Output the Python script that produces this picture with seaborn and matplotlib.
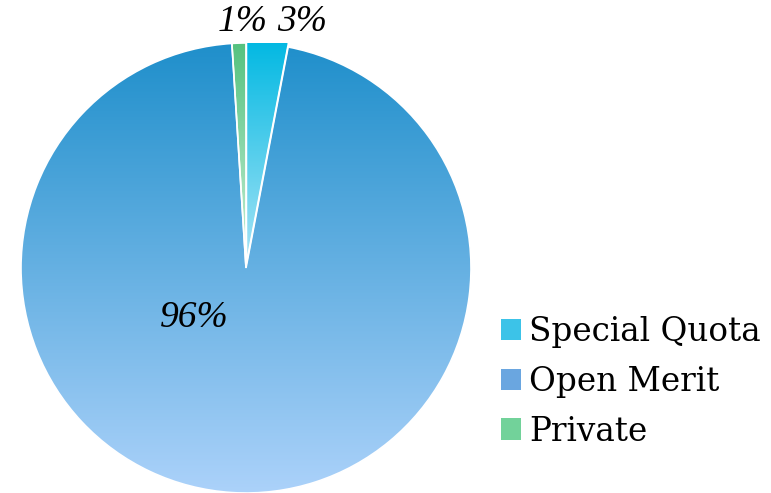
import numpy as np
import matplotlib
matplotlib.use("Agg")
import matplotlib.pyplot as plt
from matplotlib.colors import LinearSegmentedColormap
from matplotlib.patches import Patch
import seaborn as sns

# data
categories = ["Special Quota", "Open Merit", "Private"]
shares = [3, 96, 1]
pct_labels = ["3%", "96%", "1%"]

# gradient colours (top, bottom) for each slice
grad_top = ["#00b8e2", "#1f8fcb", "#55c27f"]
grad_bottom = ["#a8e4f6", "#acd2fa", "#c8f0d8"]
legend_colors = ["#3cc3e8", "#6aa6e0", "#72d29a"]

sns.set_theme(style="white")
plt.rcParams["font.family"] = ["DejaVu Serif", "DejaVu Sans"]

fig = plt.figure(figsize=(7.71, 4.93), dpi=100)
fig.patch.set_facecolor("white")
cx, cy, r = 246, 268, 225
ax = fig.add_axes([(cx - r) / 771, (493 - cy - r) / 493, 2 * r / 771, 2 * r / 493])
ax.set_xlim(-1, 1)
ax.set_ylim(-1, 1)
ax.set_aspect("equal")
ax.axis("off")

wedges, _ = ax.pie(shares, startangle=90, counterclock=False, radius=1,
                   explode=[0.02, 0, 0],
                   wedgeprops=dict(facecolor="none", edgecolor="white", linewidth=1.2))

grad = np.linspace(0, 1, 256).reshape(-1, 1)
for w, c0, c1 in zip(wedges, grad_top, grad_bottom):
    cmap = LinearSegmentedColormap.from_list("g", [c0, c1])
    verts = w.get_path().vertices
    x0, y0 = verts[:, 0].min(), verts[:, 1].min()
    x1, y1 = verts[:, 0].max(), verts[:, 1].max()
    img = ax.imshow(grad, cmap=cmap, extent=[x0, x1, y0, y1], aspect="auto",
                    origin="upper", zorder=1)
    img.set_clip_path(w)
    w.set_zorder(2)
ax.set_xlim(-1, 1)
ax.set_ylim(-1, 1)

# percentage labels
lab_font = dict(family="Liberation Serif", style="italic", fontsize=27, color="black")
label_pos = {"3%": (0.25, 1.095), "1%": (-0.015, 1.095), "96%": (-0.23, -0.22)}
for t in pct_labels:
    x, y = label_pos[t]
    ax.text(x, y, t, ha="center", va="center", clip_on=False, **lab_font)

handles = [Patch(facecolor=c, edgecolor="none") for c in legend_colors]
leg = fig.legend(handles, categories, loc="center left", bbox_to_anchor=(0.633, 0.226),
                 frameon=False, fontsize=23.5, handlelength=0.62, handleheight=0.62,
                 handletextpad=0.25, labelspacing=0.55, borderaxespad=0)
for txt in leg.get_texts():
    txt.set_color("black")

fig.savefig("out.png", dpi=100, facecolor="white")
